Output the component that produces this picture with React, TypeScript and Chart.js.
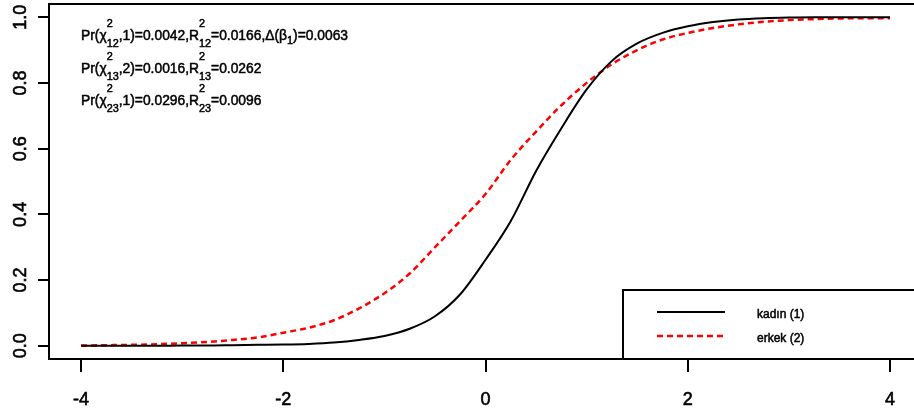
import React, { useEffect, useRef } from "react";
import { Chart, registerables } from "chart.js";

Chart.register(...registerables);

// ---- data ----
const xValues = [-4, -3.75, -3.5, -3.25, -3, -2.75, -2.5, -2.25, -2, -1.75, -1.5, -1.25, -1, -0.75, -0.5, -0.25, 0, 0.25, 0.5, 0.75, 1, 1.25, 1.5, 1.75, 2, 2.25, 2.5, 2.75, 3, 3.25, 3.5, 3.75, 4];
const kadinValues = [0, 0, 0, 0, 0.001, 0.001, 0.002, 0.003, 0.004, 0.006, 0.01, 0.018, 0.03, 0.052, 0.09, 0.157, 0.262, 0.38, 0.532, 0.662, 0.78, 0.867, 0.92, 0.952, 0.972, 0.985, 0.993, 0.997, 0.999, 1, 1, 1, 1];
const erkekValues = [0.001, 0.002, 0.003, 0.005, 0.008, 0.012, 0.018, 0.026, 0.04, 0.055, 0.078, 0.114, 0.16, 0.22, 0.3, 0.38, 0.462, 0.566, 0.652, 0.732, 0.8, 0.857, 0.9, 0.932, 0.952, 0.967, 0.978, 0.986, 0.991, 0.994, 0.996, 0.997, 0.997];
const xTickValues = [-4, -2, 0, 2, 4];
const yTickValues = [0, 0.2, 0.4, 0.6, 0.8, 1.0];
const seriesLabels = ["kadın (1)", "erkek (2)"];

type Seg = { t?: string; sup?: string; sub?: string; subShift?: number };
const annotationLine1: Seg[] = [
  { t: "Pr(χ" }, { sup: "2", sub: "12" }, { t: ",1)=0.0042,R" }, { sup: "2", sub: "12" },
  { t: "=0.0166,Δ(β" }, { sub: "1", subShift: 4 }, { t: ")=0.0063" },
];
const annotationLine2: Seg[] = [
  { t: "Pr(χ" }, { sup: "2", sub: "13" }, { t: ",2)=0.0016,R" }, { sup: "2", sub: "13" }, { t: "=0.0262" },
];
const annotationLine3: Seg[] = [
  { t: "Pr(χ" }, { sup: "2", sub: "23" }, { t: ",1)=0.0296,R" }, { sup: "2", sub: "23" }, { t: "=0.0096" },
];

const FONT = "'Liberation Sans', Arial, Helvetica, sans-serif";

function put(ctx: CanvasRenderingContext2D, s: string, x: number, y: number, draw: boolean) {
  if (draw) {
    ctx.strokeText(s, x, y);
    ctx.fillText(s, x, y);
  }
  return ctx.measureText(s).width;
}

function richText(ctx: CanvasRenderingContext2D, segs: Seg[], x: number, y: number, draw: boolean) {
  let cx = x;
  for (const s of segs) {
    if (s.t !== undefined) {
      ctx.font = `14px ${FONT}`;
      cx += put(ctx, s.t, cx, y, draw);
    } else {
      ctx.font = `11px ${FONT}`;
      let w = 0;
      if (s.sup) w = Math.max(w, put(ctx, s.sup, cx, y - 13, draw));
      if (s.sub) w = Math.max(w, put(ctx, s.sub, cx, y + (s.subShift ?? 7), draw));
      cx += w;
    }
  }
  return cx - x;
}

const overlayPlugin = {
  id: "overlay",
  afterDraw(chart: any) {
    const ctx: CanvasRenderingContext2D = chart.ctx;
    const area = chart.chartArea;
    ctx.save();
    // top border of box
    ctx.strokeStyle = "#000";
    ctx.lineWidth = 2;
    ctx.beginPath();
    ctx.moveTo(area.left - 1, area.top);
    ctx.lineTo(area.right, area.top);
    ctx.stroke();

    // annotation text
    ctx.fillStyle = "#000";
    ctx.strokeStyle = "#000";
    ctx.lineWidth = 0.5;
    ctx.textBaseline = "alphabetic";
    ctx.textAlign = "left";
    const w1 = richText(ctx, annotationLine1, 0, 0, false);
    const factor = 267 / w1;
    const lines = [annotationLine1, annotationLine2, annotationLine3];
    const baselines = [40, 73, 105];
    lines.forEach((segs, i) => {
      ctx.save();
      ctx.translate(81, 0);
      ctx.scale(factor, 1);
      richText(ctx, segs, 0, baselines[i], true);
      ctx.restore();
    });

    // legend box
    const lx = 623, ly = 290;
    ctx.strokeStyle = "#000";
    ctx.lineWidth = 2;
    ctx.beginPath();
    ctx.moveTo(lx, area.bottom);
    ctx.lineTo(lx, ly);
    ctx.lineTo(area.right + 2, ly);
    ctx.stroke();

    const ds = chart.data.datasets;
    const rows = [312, 336];
    rows.forEach((ry, i) => {
      ctx.strokeStyle = ds[i].borderColor;
      ctx.lineWidth = ds[i].borderWidth;
      ctx.setLineDash(ds[i].borderDash || []);
      ctx.beginPath();
      ctx.moveTo(657, ry);
      ctx.lineTo(725, ry);
      ctx.stroke();
      ctx.setLineDash([]);
      ctx.fillStyle = "#000";
      ctx.strokeStyle = "#000";
      ctx.lineWidth = 0.5;
      ctx.font = `12px ${FONT}`;
      ctx.textBaseline = "middle";
      ctx.strokeText(seriesLabels[i], 757, ry + 2.5);
      ctx.fillText(seriesLabels[i], 757, ry + 2.5);
    });
    ctx.restore();
  },
};

export default function App() {
  const ref = useRef<HTMLCanvasElement>(null);
  useEffect(() => {
    document.body.style.margin = "0";
    const kadinData = xValues.map((x, i) => ({ x, y: kadinValues[i] }));
    const erkekData = xValues.map((x, i) => ({ x, y: erkekValues[i] }));
    const chart = new Chart(ref.current as HTMLCanvasElement, {
      type: "line",
      data: {
        datasets: [
          {
            label: seriesLabels[0],
            data: kadinData,
            borderColor: "#000000",
            borderWidth: 2,
            pointRadius: 0,
            cubicInterpolationMode: "monotone",
            fill: false,
          },
          {
            label: seriesLabels[1],
            data: erkekData,
            borderColor: "#ff0000",
            borderWidth: 2.5,
            borderDash: [6, 4],
            pointRadius: 0,
            cubicInterpolationMode: "monotone",
            fill: false,
          },
        ],
      },
      options: {
        responsive: false,
        animation: false,
        devicePixelRatio: 1,
        layout: { padding: { top: 4, left: 0, right: 0, bottom: 0 } },
        plugins: { legend: { display: false }, tooltip: { enabled: false } },
        scales: {
          x: {
            type: "linear",
            min: -4.317,
            max: 4.237,
            afterBuildTicks: (s: any) => {
              s.ticks = xTickValues.map((v) => ({ value: v }));
            },
            afterFit: (s: any) => {
              s.height = 56;
              s.paddingLeft = 0;
              s.paddingRight = 0;
            },
            grid: { display: true, drawOnChartArea: false, drawTicks: true, tickLength: 13, color: "#000", lineWidth: 2 },
            border: { display: true, color: "#000", width: 2 },
            ticks: {
              font: { size: 18, family: FONT },
              color: "#000",
              textStrokeColor: "#000",
              textStrokeWidth: 0.6,
              padding: 17,
              maxRotation: 0,
              autoSkip: false,
              callback: (v: any) => String(v),
            },
          },
          y: {
            type: "linear",
            min: -0.04,
            max: 1.04,
            afterBuildTicks: (s: any) => {
              s.ticks = yTickValues.map((v) => ({ value: v }));
            },
            afterFit: (s: any) => {
              s.width = 49;
              s.paddingTop = 0;
              s.paddingBottom = 0;
            },
            grid: { display: true, drawOnChartArea: false, drawTicks: true, tickLength: 11, color: "#000", lineWidth: 2 },
            border: { display: true, color: "#000", width: 2 },
            ticks: {
              font: { size: 18, family: FONT },
              color: "#000",
              textStrokeColor: "#000",
              textStrokeWidth: 0.6,
              padding: 4,
              minRotation: 90,
              maxRotation: 90,
              crossAlign: "center",
              autoSkip: false,
              callback: (v: any) => Number(v).toFixed(1),
            },
          },
        },
      },
      plugins: [overlayPlugin],
    } as any);
    return () => chart.destroy();
  }, []);
  return (
    <div style={{ width: 914, height: 415 }}>
      <canvas ref={ref} width={914} height={415} style={{ display: "block" }} />
    </div>
  );
}
